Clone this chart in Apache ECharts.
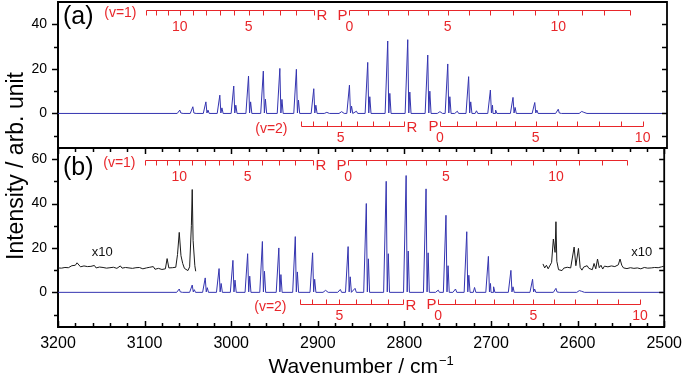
<!DOCTYPE html>
<html>
<head>
<meta charset="utf-8">
<script src="https://cdn.jsdelivr.net/npm/echarts@6/dist/echarts.min.js"></script>
<style>
html, body { margin: 0; padding: 0; background: #fff; }
#chart { width: 685px; height: 379px; }
</style>
</head>
<body>
<div id="chart"></div>
<script>
// v=1 progression line positions (cm-1), R branch on the left, P branch on the right
var peakPos = [3060, 3045, 3030, 3014, 2998, 2981, 2964, 2945, 2926, 2906,
               2865, 2844, 2821, 2798, 2775, 2752, 2728, 2703, 2677, 2652, 2625, 2598];
// panel (a) heights, main line and its low-wavenumber shoulder
var mainA     = [1.5, 3.0, 5.2, 8.2, 12.3, 16.8, 19.0, 20.2, 19.8, 11.1,
                 12.7, 22.9, 32.5, 33.1, 26.2, 22.2, 16.5, 10.5, 7.2, 4.9, 1.9, 0.9];
var shoulderA = [0.5, 1.0, 1.5, 2.5, 3.7, 5.2, 6.4, 6.3, 6.0, 3.7,
                 3.3, 7.5, 9.0, 9.6, 10.0, 7.5, 5.2, 3.7, 2.7, 1.5, 1.0, 0.5];
// panel (b) heights
var mainB     = [1.5, 3.3, 6.5, 10.7, 14.4, 17.4, 22.9, 20.0, 25.1, 17.8,
                 20.6, 40.0, 50.0, 52.6, 46.6, 34.7, 27.3, 16.2, 9.9, 5.9, 1.8, 0.8];
var shoulderB = [0.6, 1.2, 2.1, 4.0, 5.5, 7.3, 9.5, 8.0, 9.2, 5.9,
                 7.0, 15.1, 17.4, 18.6, 17.8, 12.0, 7.7, 4.0, 2.5, 1.5, 1.0, 0.5];
// weak v=2 lines between the main ones
var hotPos = [2891, 2874, 2857, 2761, 2741, 2719, 2697];
var hotA   = [0.5, 0.8, 1.0, 0.8, 1.0, 1.2, 1.5];
var hotB   = [0.9, 1.3, 1.8, 1.0, 1.5, 2.2, 2.5];

// x10 magnified traces in panel (b)
var traceLeft = [
  [3200, 11.0], [3198, 11.6], [3196, 10.9], [3194, 11.5], [3192, 11.2], [3190, 11.8], [3188, 11.1], [3186, 11.4],
  [3184, 12.0], [3182, 11.3], [3180, 12.2], [3178, 13.3], [3176, 12.4], [3174, 11.5], [3172, 11.0], [3170, 11.9],
  [3168, 11.2], [3166, 11.6], [3164, 10.8], [3162, 11.7], [3160, 11.3], [3158, 12.1], [3156, 11.0], [3154, 11.8],
  [3152, 11.4], [3150, 12.3], [3148, 11.2], [3146, 11.9], [3144, 10.9], [3142, 11.6], [3140, 11.1], [3138, 12.0],
  [3136, 11.3], [3134, 11.7], [3132, 10.8], [3130, 11.5], [3128, 11.9], [3126, 10.9], [3124, 11.6], [3122, 11.2],
  [3120, 12.1], [3118, 11.0], [3116, 11.7], [3114, 10.8], [3112, 11.5], [3110, 11.1], [3108, 12.0], [3106, 11.2],
  [3104, 11.8], [3102, 10.6], [3100, 11.4], [3098, 11.0], [3096, 10.5], [3094, 11.3], [3092, 10.7], [3090, 11.6],
  [3088, 10.4], [3086, 11.2], [3084, 10.8], [3082, 11.5], [3080, 10.3], [3078, 11.0], [3076, 10.6], [3074, 15.2],
  [3072, 11.0], [3070, 10.2], [3068, 11.1], [3066, 10.5], [3064, 11.3], [3062, 17.0], [3060, 27.0], [3058, 16.5],
  [3056, 13.0], [3054, 10.8], [3052, 11.2], [3050, 9.8], [3048, 11.5], [3046, 30.0], [3045, 46.3], [3044, 23.3],
  [3042, 12.0], [3041, 9.5]
];
var traceRight = [
  [2640, 12.8], [2638, 11.0], [2636, 12.2], [2634, 10.6], [2632, 11.4], [2630, 13.5], [2628, 24.0], [2626, 18.0],
  [2625, 31.8], [2624, 14.0], [2622, 10.2], [2620, 11.0], [2618, 9.8], [2616, 10.9], [2614, 10.1], [2612, 11.3],
  [2610, 10.4], [2608, 11.0], [2606, 10.5], [2604, 20.4], [2602, 12.0], [2600, 12.5], [2599, 19.8], [2597, 11.2],
  [2595, 10.0], [2593, 11.4], [2591, 10.5], [2589, 12.0], [2587, 10.8], [2585, 11.6], [2583, 10.2], [2581, 13.0],
  [2579, 10.6], [2577, 15.0], [2575, 11.1], [2573, 12.2], [2571, 10.5], [2569, 11.8], [2567, 10.9], [2565, 11.5],
  [2563, 10.7], [2561, 11.9], [2559, 11.0], [2557, 11.6], [2555, 11.2], [2553, 12.4], [2551, 15.0], [2549, 12.2],
  [2547, 11.0], [2545, 11.8], [2543, 10.7], [2541, 11.5], [2539, 11.1], [2537, 12.0], [2535, 10.8], [2533, 11.6],
  [2531, 11.0], [2529, 11.9], [2527, 10.6], [2525, 11.4], [2523, 11.2], [2521, 12.1], [2519, 10.9], [2517, 11.7],
  [2515, 11.0], [2513, 11.8], [2511, 11.2], [2509, 12.0], [2507, 11.1], [2505, 11.9], [2503, 11.5], [2501, 12.2],
  [2500, 11.8]
];

// assignment combs
var combV1R = [3099, 3087, 3074, 3060, 3045, 3030, 3014, 2998, 2981, 2964, 2945, 2926, 2906];
var combV1P = [2865, 2844, 2821, 2798, 2775, 2752, 2728, 2703, 2677, 2652, 2625, 2598, 2572, 2543];
var combV2R = [2921, 2907, 2891, 2875, 2856, 2838, 2819, 2802];
var combV2P = [2761, 2741, 2719, 2697, 2675, 2651, 2627, 2603, 2578, 2553, 2528];
var labV1R = [[3060, '10'], [2981, '5']];
var labV1P = [[2865, '0'], [2752, '5'], [2625, '10']];
var labV2R = [[2875, '5']];
var labV2P = [[2761, '0'], [2651, '5'], [2528, '10']];

// axis ticks
var xMajor = [3200, 3100, 3000, 2900, 2800, 2700, 2600, 2500];
var xMinor = [3180, 3160, 3140, 3120, 3080, 3060, 3040, 3020, 2980, 2960, 2940, 2920,
              2880, 2860, 2840, 2820, 2780, 2760, 2740, 2720, 2680, 2660, 2640, 2620,
              2580, 2560, 2540, 2520];
var yMajorA = [0, 20, 40], yMinorA = [-10, 10, 30];
var yMajorB = [0, 20, 40, 60], yMinorB = [-10, 10, 30, 50];

var FONT = 'Liberation Sans, Arial, sans-serif';
var RED = '#e8262a';
var BLUE = '#3434b0';

function buildSpectrum(main, shoulder, hot) {
  var pts = [[3200, 0], [2500, 0]];
  peakPos.forEach(function (p, i) {
    pts.push([p + 3, 0], [p + 1.5, 0], [p, main[i]], [p - 1.2, 0.2], [p - 2.4, shoulder[i]], [p - 3.8, 0], [p - 6, 0]);
  });
  hotPos.forEach(function (p, i) {
    pts.push([p + 3, 0], [p + 1.5, 0], [p, hot[i]], [p - 1.5, 0], [p - 3, 0]);
  });
  pts.sort(function (a, b) { return b[0] - a[0]; });
  return pts;
}

function combRenderer(combs) {
  return function (params, api) {
    var c = combs[params.dataIndex];
    var y0 = Math.round(api.coord([2800, c.level])[1]) + 0.5;
    var xs = c.ticks.map(function (t) { return Math.round(api.coord([t, c.level])[0]) + 0.5; });
    var xL = Math.min.apply(null, xs), xR = Math.max.apply(null, xs);
    var st = { stroke: RED, lineWidth: 1 };
    var ch = [{ type: 'line', shape: { x1: xL, y1: y0, x2: xR, y2: y0 }, style: st }];
    xs.forEach(function (x) {
      ch.push({ type: 'line', shape: { x1: x, y1: y0, x2: x, y2: y0 + c.dir * 5 }, style: st });
    });
    c.labels.forEach(function (l) {
      ch.push({ type: 'text', x: api.coord([l[0], c.level])[0], y: y0 + c.labelDy,
        style: { text: l[1], fill: RED, font: '14px ' + FONT, align: 'center', verticalAlign: 'middle' } });
    });
    if (c.name) {
      ch.push({ type: 'text', x: xL - c.nameGap, y: y0 + 3,
        style: { text: c.name, fill: RED, font: '14px ' + FONT, align: 'right', verticalAlign: 'middle' } });
    }
    var lx = c.letterSide === 'end' ? xR + 2 : xL - 2;
    ch.push({ type: 'text', x: lx, y: y0 + c.letterDy,
      style: { text: c.letter, fill: RED, font: '15px ' + FONT, align: c.letterSide === 'end' ? 'left' : 'right', verticalAlign: 'middle' } });
    return { type: 'group', children: ch };
  };
}

function textRenderer(items) {
  return function (params, api) {
    var it = items[params.dataIndex];
    var p = api.coord([it[0], it[1]]);
    return { type: 'text', x: p[0], y: p[1],
      style: { text: it[2], fill: '#111', font: '13px ' + FONT, align: 'center', verticalAlign: 'middle' } };
  };
}

function makeCombs(v1, v2) {
  return [
    { ticks: combV1R, level: v1, dir: 1, labels: labV1R, labelDy: 17, name: '(v=1)', nameGap: 10, letter: 'R', letterSide: 'end', letterDy: 5 },
    { ticks: combV1P, level: v1, dir: 1, labels: labV1P, labelDy: 17, letter: 'P', letterSide: 'start', letterDy: 5 },
    { ticks: combV2R, level: v2, dir: -1, labels: labV2R, labelDy: 12, name: '(v=2)', nameGap: 14, letter: 'R', letterSide: 'end', letterDy: 1 },
    { ticks: combV2P, level: v2, dir: -1, labels: labV2P, labelDy: 12, letter: 'P', letterSide: 'start', letterDy: 0 }
  ];
}
var combsA = makeCombs(46.4, -5.5);
var combsB = makeCombs(59.7, -5.2);
var x10Labels = [[3149, 17.8, 'x10'], [2526, 17.8, 'x10']];

var frameLine = { color: '#000', width: 1.8 };
var panelY = [[-15.5, 50], [-15.6, 65]];

function yAxis(grid, major) {
  return { gridIndex: grid, type: 'value', min: panelY[grid][0], max: panelY[grid][1], position: 'left',
    axisLine: { show: true, onZero: false, lineStyle: frameLine },
    axisTick: { show: false },
    axisLabel: { customValues: major, fontSize: 14, color: '#000', margin: 11, fontFamily: FONT },
    splitLine: { show: false } };
}

var baseGraphic = [
  { type: 'text', x: 17, y: 166, rotation: Math.PI / 2,
    style: { text: 'Intensity / arb. unit', font: '23px ' + FONT, fill: '#000', align: 'center', verticalAlign: 'middle' } },
  { type: 'text', x: 63, y: 17, style: { text: '(a)', font: '25px ' + FONT, fill: '#000', verticalAlign: 'middle' } },
  { type: 'text', x: 63, y: 168, style: { text: '(b)', font: '25px ' + FONT, fill: '#000', verticalAlign: 'middle' } }
];

var chart = echarts.init(document.getElementById('chart'), null, { renderer: 'canvas' });

var option = {
  animation: false,
  backgroundColor: '#fff',
  grid: [
    { left: 58, right: 18, top: 2, height: 146, show: true, borderColor: '#000', borderWidth: 1.8 },
    { left: 58, right: 18, top: 148, height: 181, show: true, borderColor: '#000', borderWidth: 1.8 }
  ],
  xAxis: [
    { gridIndex: 0, type: 'value', min: 2500, max: 3200, inverse: true,
      axisLine: { show: false, onZero: false }, axisTick: { show: false }, axisLabel: { show: false }, splitLine: { show: false } },
    { gridIndex: 1, type: 'value', min: 2500, max: 3200, inverse: true, position: 'bottom',
      axisLine: { show: true, onZero: false, lineStyle: frameLine },
      axisTick: { show: false }, splitLine: { show: false },
      axisLabel: { customValues: xMajor, fontSize: 16, color: '#000', margin: 9, fontFamily: FONT,
        formatter: function (v) { return String(v); } },
      name: 'Wavenumber / cm{s|\u22121}', nameLocation: 'middle', nameGap: 28,
      nameTextStyle: { fontSize: 21, color: '#000', fontFamily: FONT,
        rich: { s: { fontSize: 13, color: '#000', fontFamily: FONT, padding: [0, 0, 12, 1] } } } }
  ],
  yAxis: [yAxis(0, yMajorA), yAxis(1, yMajorB)],
  graphic: baseGraphic,
  series: [
    { type: 'line', xAxisIndex: 0, yAxisIndex: 0, data: buildSpectrum(mainA, shoulderA, hotA),
      showSymbol: false, lineStyle: { color: BLUE, width: 1 }, z: 3 },
    { type: 'line', xAxisIndex: 1, yAxisIndex: 1, data: buildSpectrum(mainB, shoulderB, hotB),
      showSymbol: false, lineStyle: { color: BLUE, width: 1 }, z: 3 },
    { type: 'line', xAxisIndex: 1, yAxisIndex: 1, data: traceLeft,
      showSymbol: false, lineStyle: { color: '#1a1a1a', width: 1 }, z: 2 },
    { type: 'line', xAxisIndex: 1, yAxisIndex: 1, data: traceRight,
      showSymbol: false, lineStyle: { color: '#1a1a1a', width: 1 }, z: 2 },
    { type: 'custom', xAxisIndex: 0, yAxisIndex: 0, clip: false, renderItem: combRenderer(combsA),
      data: combsA.map(function (c) { return [2800, c.level]; }), z: 4 },
    { type: 'custom', xAxisIndex: 1, yAxisIndex: 1, clip: false, renderItem: combRenderer(combsB),
      data: combsB.map(function (c) { return [2800, c.level]; }), z: 4 },
    { type: 'custom', xAxisIndex: 1, yAxisIndex: 1, clip: false, renderItem: textRenderer(x10Labels),
      data: x10Labels.map(function (t) { return [t[0], t[1]]; }), z: 4 }
  ]
};

chart.setOption(option);

// frame ticks placed through the chart's own scales: left outward, right inward,
// top and bottom of panel (b) inward
function frameTicks() {
  var els = [];
  var st = { stroke: '#000', lineWidth: 1.5 };
  function seg(x1, y1, x2, y2) {
    els.push({ type: 'line', z: 100, shape: { x1: x1, y1: y1, x2: x2, y2: y2 }, style: st, silent: true });
  }
  [[yMajorA, yMinorA], [yMajorB, yMinorB]].forEach(function (sets, g) {
    var finder = { gridIndex: g };
    var left = chart.convertToPixel(finder, [3200, 0])[0];
    var right = chart.convertToPixel(finder, [2500, 0])[0];
    [[sets[0], 6], [sets[1], 4]].forEach(function (s) {
      s[0].forEach(function (v) {
        var y = Math.round(chart.convertToPixel(finder, [2800, v])[1]) + 0.5;
        seg(left, y, left - s[1], y);
        seg(right, y, right - 5, y);
      });
    });
  });
  var fb = { gridIndex: 1 };
  var top = chart.convertToPixel(fb, [2800, panelY[1][1]])[1];
  var bottom = chart.convertToPixel(fb, [2800, panelY[1][0]])[1];
  [[xMajor, 6], [xMinor, 4]].forEach(function (s) {
    s[0].forEach(function (v) {
      var x = Math.round(chart.convertToPixel(fb, [v, 0])[0]) + 0.5;
      seg(x, bottom, x, bottom - s[1]);
      seg(x, top, x, top + s[1]);
    });
  });
  return els;
}

chart.setOption({ graphic: baseGraphic.concat(frameTicks()) }, { replaceMerge: ['graphic'] });
</script>
</body>
</html>
